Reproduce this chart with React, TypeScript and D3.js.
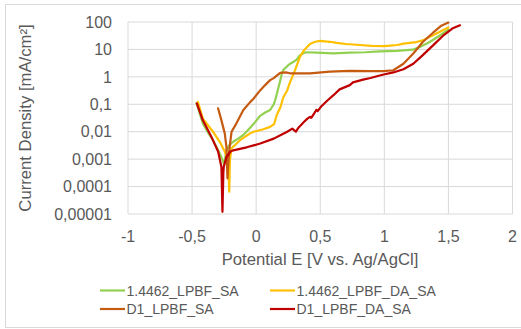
import { useMemo } from "react";
import * as d3 from "d3";

// potential E [V vs. Ag/AgCl] and current density [mA/cm²]
const greenE = [-0.465, -0.44, -0.416, -0.375, -0.337, -0.31, -0.284, -0.265, -0.25, -0.242, -0.232, -0.21, -0.179, -0.14, -0.1, -0.047, -0.021, 0.031, 0.07, 0.109, 0.137, 0.148, 0.165, 0.187, 0.2, 0.212, 0.24, 0.264, 0.29, 0.316, 0.34, 0.368, 0.39, 0.472, 0.6, 0.731, 0.85, 0.964, 1.1, 1.22, 1.277, 1.354, 1.43, 1.5];
const greenI = [0.11, 0.045, 0.02, 0.0093, 0.0049, 0.0028, 0.0016, 0.001, 0.00063, 0.0011, 0.0021, 0.0032, 0.0043, 0.0056, 0.0076, 0.014, 0.019, 0.038, 0.05, 0.062, 0.1, 0.14, 0.28, 0.71, 1.3, 1.8, 2.4, 3.0, 3.5, 4.2, 6.0, 7.2, 7.9, 7.6, 7.2, 7.6, 7.9, 8.5, 8.9, 9.8, 12.3, 18.6, 31.6, 52.5];

const yellowE = [-0.455, -0.416, -0.337, -0.284, -0.245, -0.218, -0.21, -0.205, -0.192, -0.126, -0.047, -0.021, 0.05, 0.109, 0.14, 0.16, 0.19, 0.212, 0.242, 0.264, 0.295, 0.342, 0.37, 0.42, 0.46, 0.5, 0.575, 0.628, 0.7, 0.81, 0.9, 1.0, 1.1, 1.15, 1.25, 1.3, 1.38, 1.456, 1.5];
const yellowI = [0.123, 0.03, 0.01, 0.0043, 0.0019, 0.00093, 0.000065, 0.00093, 0.0025, 0.0049, 0.0087, 0.01, 0.012, 0.015, 0.019, 0.04, 0.08, 0.18, 0.32, 0.63, 1.4, 5.4, 8.9, 15.8, 19, 20.4, 19, 17.4, 15.8, 14.5, 13.5, 13.2, 14.5, 16.2, 18.6, 21.4, 33, 50, 63];

const brownE = [-0.297, -0.271, -0.245, -0.232, -0.224, -0.215, -0.21, -0.192, -0.163, -0.1, -0.047, -0.021, 0.031, 0.07, 0.109, 0.137, 0.187, 0.23, 0.264, 0.42, 0.575, 0.731, 0.892, 0.995, 1.07, 1.149, 1.226, 1.3, 1.38, 1.44, 1.5];
const brownI = [0.071, 0.026, 0.0087, 0.0028, 0.0002, 0.001, 0.0021, 0.01, 0.017, 0.062, 0.12, 0.16, 0.32, 0.5, 0.76, 0.9, 1.4, 1.45, 1.35, 1.35, 1.55, 1.66, 1.62, 1.62, 1.74, 3.0, 7.1, 18.6, 40.7, 70.8, 95];

const redE = [-0.463, -0.416, -0.35, -0.297, -0.271, -0.263, -0.256, -0.253, -0.232, -0.2, -0.179, -0.074, 0.032, 0.137, 0.2, 0.242, 0.282, 0.3, 0.31, 0.325, 0.347, 0.37, 0.4, 0.42, 0.43, 0.453, 0.47, 0.48, 0.505, 0.558, 0.601, 0.651, 0.731, 0.755, 0.834, 0.892, 0.964, 0.995, 1.07, 1.149, 1.226, 1.3, 1.38, 1.456, 1.53, 1.59];
const redI = [0.107, 0.026, 0.0066, 0.0019, 0.00052, 0.000012, 0.00032, 0.00052, 0.0012, 0.0019, 0.0021, 0.0027, 0.0037, 0.0056, 0.0079, 0.01, 0.013, 0.011, 0.01, 0.013, 0.017, 0.022, 0.03, 0.035, 0.032, 0.047, 0.063, 0.056, 0.081, 0.14, 0.21, 0.35, 0.5, 0.63, 0.79, 0.91, 1.12, 1.22, 1.45, 1.9, 3.0, 6.2, 14.1, 30.9, 57.5, 75.9];

const seriesNames = ["1.4462_LPBF_SA", "1.4462_LPBF_DA_SA", "D1_LPBF_SA", "D1_LPBF_DA_SA"];
const seriesColors = ["#92D050", "#FFC000", "#C55A11", "#C00000"];

const xTicks = [-1, -0.5, 0, 0.5, 1, 1.5, 2];
const yTicks = [100, 10, 1, 0.1, 0.01, 0.001, 0.0001, 0.00001];
const yTickLabels = ["100", "10", "1", "0,1", "0,01", "0,001", "0,0001", "0,00001"];

const W = 521;
const H = 329;
const font = "'Liberation Sans', Arial, sans-serif";
const ink = "#595959";
const grid = "#D9D9D9";

export default function App() {
  const x = d3.scaleLinear([-1, 2], [128, 512.5]);
  const y = d3.scaleLog([0.00001, 100], [214, 22]);

  const series = useMemo(() => {
    const es = [greenE, yellowE, brownE, redE];
    const is = [greenI, yellowI, brownI, redI];
    return es.map((e, k) => e.map((v, j) => [v, is[k][j]] as [number, number]));
  }, []);

  const line = d3
    .line<[number, number]>()
    .x((d) => x(d[0]))
    .y((d) => y(d[1]));

  // legend entries: two columns, two rows
  const legendPos = [
    [100, 290.5],
    [270, 290.5],
    [100, 309],
    [270, 309],
  ];

  return (
    <svg
      width={W}
      height={H}
      viewBox={`0 0 ${W} ${H}`}
      style={{ position: "absolute", left: 0, top: 0, background: "#fff" }}
      fontFamily={font}
    >
      <rect x={5.5} y={4.5} width={520} height={323} fill="#fff" stroke={grid} strokeWidth={1} />

      {yTicks.map((t) => (
        <line key={`gy${t}`} x1={x(-1)} x2={x(2)} y1={y(t)} y2={y(t)} stroke={grid} strokeWidth={1} />
      ))}
      {xTicks.map((t) => (
        <line key={`gx${t}`} x1={x(t)} x2={x(t)} y1={y(100)} y2={y(0.00001)} stroke={grid} strokeWidth={1} />
      ))}

      {yTicks.map((t, i) => (
        <text key={`ty${t}`} x={112} y={y(t)} dy="0.36em" textAnchor="end" fontSize={16} fill={ink}>
          {yTickLabels[i]}
        </text>
      ))}
      {xTicks.map((t) => (
        <text key={`tx${t}`} x={x(t)} y={241.5} textAnchor="middle" fontSize={16} fill={ink}>
          {String(t).replace(".", ",")}
        </text>
      ))}

      <text x={320} y={265} textAnchor="middle" fontSize={16.7} fill={ink}>
        Potential E [V vs. Ag/AgCl]
      </text>
      <text transform="translate(31, 118) rotate(-90)" textAnchor="middle" fontSize={16.7} fill={ink}>
        Current Density [mA/cm²]
      </text>

      {series.map((s, k) => (
        <path
          key={seriesNames[k]}
          d={line(s) ?? ""}
          fill="none"
          stroke={seriesColors[k]}
          strokeWidth={2.2}
          strokeLinejoin="round"
          strokeLinecap="round"
        />
      ))}

      {seriesNames.map((n, k) => (
        <g key={`lg${n}`} transform={`translate(${legendPos[k][0]}, ${legendPos[k][1]})`}>
          <line x1={0} x2={25} y1={0} y2={0} stroke={seriesColors[k]} strokeWidth={2.2} />
          <text x={26.5} y={0} dy="0.36em" fontSize={14} fill={ink}>
            {n}
          </text>
        </g>
      ))}
    </svg>
  );
}
